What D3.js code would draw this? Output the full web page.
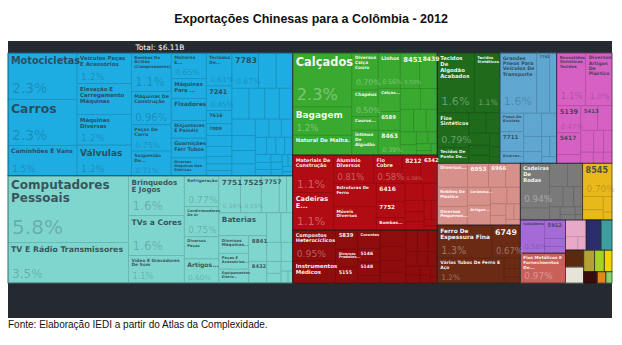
<!DOCTYPE html>
<html>
<head>
<meta charset="utf-8">
<script src="https://cdn.jsdelivr.net/npm/d3@7"></script>
<style>
  html, body { margin: 0; padding: 0; background: #ffffff; }
  svg { display: block; }
</style>
</head>
<body>
<svg id="chart" width="622" height="345"></svg>
<script>
// ---------------------------------------------------------------
// Participação de cada produto no total exportado (%)
// Itens sem nome são produtos pequenos sem rótulo visível.
// ---------------------------------------------------------------

// Máquinas
const maqColA = [["Motocicletas", 2.3], ["Carros", 2.3], ["Caminhões E Vans", 1.5]];
const maqColB = [["Veículos Peças E Acessórios", 1.2], ["Elevação E Carregamento Máquinas", 1.2], ["Máquinas Diversas", 1.2], ["Válvulas", 1.2]];
const maqColC = [["Bombas De Ar/Gás (Compressores)", 1.1], ["Máquinas De Construção", 0.96], ["Peças De Carro", 0.75], ["Suspensão De...", 0.71]];
const maqColD = [["Motores E...", 0.65], ["Máquinas Para ...", 0.5], ["Fixadores", 0.55], ["Disjuntores E Painéis", 0.45], ["Guarnições Ferr Tubos", 0.5], ["Diversos Máquinas Não Elétricas", 0.45]];
const maqColE = [["Teclados De...", 0.61], ["7241", 0.45], ["7616", 0.25], ["7009", 0.22], 0.2, 0.18, 0.14, 0.12, 0.1];
const maqResto = [["7783", 0.67], 0.45, 0.42, 0.38, 0.35, 0.32, 0.30, 0.28, 0.25, 0.22, 0.2, 0.18, 0.16, 0.15, 0.14, 0.12, 0.11, 0.1, 0.09, 0.08, 0.07, 0.06, 0.06, 0.05, 0.05, 0.04, 0.04, 0.03];

// Eletrônicos
const eleColA = [["Computadores Pessoais", 5.8], ["TV E Rádio Transmissores", 3.5]];
const eleColB = [["Brinquedos E Jogos", 1.6], ["TVs a Cores", 1.6], ["Vídeo E Gravadores De Som", 1.1]];
const eleColC = [["Refrigeração", 0.77], ["Condicionadores De Ar", 0.75], ["Diversos Peças", 0.55], ["Artigos...", 0.6]];
const eleTopo = [["7751", 0.58], ["7525", 0.55], ["7757", 0.48], 0.2, 0.16];
const eleBaterias = [["Baterias", 0.79]];
const eleColD1 = [["Diversos Máquinas...", 0.38], ["Peças E Acessórios...", 0.34], ["Equipamentos Eletro...", 0.3]];
const eleColD2 = [["8841", 0.33], ["8432", 0.28]];
const eleResto = [0.3, 0.25, 0.2, 0.16, 0.12, 0.1, 0.08, 0.06, 0.04];

// Têxteis e calçados
const texColA = [["Calçados", 2.3], ["Bagagem", 1.2], ["Natural De Malha.", 0.85]];
const texColB = [["Diversos Calça Couro", 0.7], ["Chapéus", 0.5], ["Couros...", 0.26], ["Íntimos De Algodão", 0.47]];
const texColC = [["Linhos", 0.56], ["Calças...", 0.37], ["6589", 0.3], ["8463", 0.39]];
const texResto = [["8451", 0.5], ["8439", 0.45], 0.3, 0.25, 0.22, 0.2, 0.18, 0.15, 0.12, 0.1, 0.08, 0.07, 0.05, 0.05];

// Tecidos e fios
const tecTopo = [["Tecidos De Algodão Acabados", 1.6], ["Tecidos Sintéticos", 1.1]];
const tecColA = [["Fios Sintéticos", 0.79], ["Tecidos De Ponto De...", 0.36]];
const tecResto = [0.25, 0.2, 0.18, 0.15, 0.12, 0.1, 0.07, 0.05];

// Construção e móveis
const movColA = [["Materiais De Construção", 1.1], ["Cadeiras E...", 1.1]];
const movTopo = [["Alumínio Diversos", 0.81], ["Fio Cobre", 0.58], ["8212", 0.38], ["6342", 0.33]];
const movColB = [["Estruturas De Ferro", 0.72], ["Móveis Diversos", 0.73]];
const movColC = [["6416", 0.38], ["7752", 0.34], ["Bombas...", 0.26]];
const movResto = [0.22, 0.18, 0.15, 0.13, 0.12, 0.1, 0.08, 0.06, 0.04];

// Químicos e instrumentos
const quiColA = [["Compostos Heterocíclicos", 0.95], ["Instrumentos Médicos", 0.68]];
const quiColB = [["5839", 0.3], ["Diversos Produtos...", 0.28], ["5155", 0.25]];
const quiColC = [["Corantes", 0.3], ["5146", 0.22], ["5148", 0.22], 0.12];
const quiResto = [0.3, 0.26, 0.22, 0.2, 0.18, 0.16, 0.14, 0.12, 0.11, 0.1, 0.09, 0.08, 0.07, 0.06, 0.05, 0.03];

// Pneus e veículos
const veiTopo = [["Grandes Pneus Para Veículos De Transporte", 1.6], ["7782", 0.55], 0.31];
const veiColA = [["Pneus De Bicicleta", 0.32], ["7711", 0.34], ["Diversos...", 0.2]];
const veiResto = [0.3, 0.25, 0.2, 0.15, 0.12, 0.1, 0.07];

// Plásticos
const plaTopo = [["Revestidos Sintéticos Tecidos", 1.1], ["Diversos Artigos De Plástico", 1.0]];
const plaColA = [["5139", 0.47], ["5417", 0.38], 0.15];
const plaResto = [["5413", 0.3], 0.25, 0.2, 0.16, 0.13, 0.1, 0.08, 0.07];

// Cerâmica e utensílios
const cerTopo = [["Diversos...", 0.52], ["6953", 0.36], ["6966", 0.3], 0.25];
const cerColA = [["Rebites De Plástico", 0.42], ["Diversos Pequenos...", 0.4]];
const cerColB = [["Cerâmica...", 0.3], ["Artigos...", 0.33]];
const cerResto = [0.2, 0.16, 0.13, 0.11, 0.09, 0.07, 0.06];

// Metais
const metTopo = [["Ferro De Espessura Fina", 1.3], ["6749", 0.67]];
const metBase = [["Vários Tubos De Ferro E Aço", 1.2]];
const metResto = [0.12, 0.1, 0.07];

// Demais setores
const cadCol = [["Cadeiras De Rodas", 0.94], 0.25];
const cadResto = [0.3, 0.25, 0.2, 0.16, 0.13, 0.1, 0.08, 0.06, 0.04, 0.03];
const carbono = [["8545", 0.7], 0.2, 0.15, 0.1, 0.05];
const isoA = [["Isoladores", 0.58]];
const isoB = [["5912", 0.28], 0.12, 0.1];
const fioMet = [["Fios Metálicos E Fornecimentos De...", 0.97]];
const rosa = [0.25, 0.12, 0.08];
const marinho = [0.32];
const petroleo = [0.24];
const marrom = [0.22];
const bege = [0.21];
const oliva = [0.17];
const lima = [0.15];
const amarelo = [0.12];
const vinho = [0.11];
const laranja = [0.07];
const verdeClaro = [0.05];

const titulo = "Exportações Chinesas para a Colômbia - 2012";
const total = "Total: $6.11B";
const fonte = "Fonte: Elaboração IEDI a partir do Atlas da Complexidade.";

// ---------------------------------------------------------------
// Cores por setor
// ---------------------------------------------------------------
const estilo = {
  maq: { fill: "#1eade2", ink: "dark" },
  ele: { fill: "#7fd6cf", ink: "dark" },
  tex: { fill: "#3aa92f", ink: "light" },
  tec: { fill: "#1e6b1c", ink: "light" },
  mov: { fill: "#b10b13", ink: "light" },
  qui: { fill: "#8e0c0c", ink: "light" },
  vei: { fill: "#5fa7d1", ink: "dark" },
  pla: { fill: "#d660c4", ink: "dark" },
  cer: { fill: "#d8908a", ink: "light" },
  met: { fill: "#6a2a13", ink: "light" },
  cad: { fill: "#7a7a7a", ink: "light" },
  car: { fill: "#e9b81b", ink: "dark" },
  iso: { fill: "#a66ad7", ink: "dark" },
  fio: { fill: "#c9605a", ink: "light" },
  ros: { fill: "#e8a9c9", ink: "dark" },
  mar: { fill: "#2b2c6b", ink: "light" },
  pet: { fill: "#3c9e9e", ink: "light" },
  brn: { fill: "#5b2a0e", ink: "light" },
  bge: { fill: "#e7e3d6", ink: "dark" },
  olv: { fill: "#b3a233", ink: "dark" },
  lim: { fill: "#a5d223", ink: "dark" },
  ama: { fill: "#f1d300", ink: "dark" },
  vin: { fill: "#3b0a0a", ink: "light" },
  lar: { fill: "#e2861f", ink: "dark" },
  vcl: { fill: "#8ed16c", ink: "dark" }
};

// ---------------------------------------------------------------
// Estrutura do treemap: "h" = lado a lado, "v" = empilhado,
// "s" = squarify para os produtos menores
// ---------------------------------------------------------------
const leaf = d => Array.isArray(d) ? { name: d[0], value: d[1] } : { name: "", value: d };
const list = (dir, arr) => ({ dir, children: arr.map(leaf) });
const H = (...children) => ({ dir: "h", children });
const V = (...children) => ({ dir: "v", children });
const sec = (key, node) => Object.assign(node, { sec: key });

const tree = H(
  V(
    sec("maq", H(list("v", maqColA), list("v", maqColB), list("v", maqColC), list("v", maqColD), list("v", maqColE), list("s", maqResto))),
    sec("ele", H(list("v", eleColA), list("v", eleColB), list("v", eleColC),
      V(list("h", eleTopo),
        H(V(list("v", eleBaterias), H(list("v", eleColD1), list("v", eleColD2))), list("s", eleResto)))))
  ),
  V(
    sec("tex", H(list("v", texColA), list("v", texColB), list("v", texColC), list("s", texResto))),
    sec("mov", H(list("v", movColA), V(list("h", movTopo), H(list("v", movColB), list("v", movColC), list("s", movResto))))),
    sec("qui", H(list("v", quiColA), list("v", quiColB), list("v", quiColC), list("s", quiResto)))
  ),
  V(
    H(
      sec("tec", V(list("h", tecTopo), H(list("v", tecColA), list("s", tecResto)))),
      sec("vei", V(list("h", veiTopo), H(list("v", veiColA), list("s", veiResto)))),
      sec("pla", V(list("h", plaTopo), H(list("v", plaColA), list("s", plaResto))))
    ),
    H(
      V(
        sec("cer", V(list("h", cerTopo), H(list("v", cerColA), list("v", cerColB), list("s", cerResto)))),
        sec("met", V(list("h", metTopo), H(list("h", metBase), list("v", metResto))))
      ),
      V(
        H(sec("cad", H(list("v", cadCol), list("s", cadResto))), sec("car", list("s", carbono))),
        H(
          V(sec("iso", H(list("v", isoA), list("v", isoB))), sec("fio", list("v", fioMet))),
          V(
            H(sec("ros", list("s", rosa)), sec("mar", list("v", marinho)), sec("pet", list("v", petroleo))),
            H(
              V(sec("brn", list("v", marrom)), sec("bge", list("v", bege))),
              V(
                H(sec("olv", list("v", oliva)), sec("lim", list("v", lima)), sec("ama", list("v", amarelo))),
                H(sec("vin", list("v", vinho)), sec("lar", list("v", laranja)), sec("vcl", list("v", verdeClaro)))
              )
            )
          )
        )
      )
    )
  )
);

function tile(node, x0, y0, x1, y1) {
  const dir = node.data.dir;
  if (dir === "h") d3.treemapDice(node, x0, y0, x1, y1);
  else if (dir === "v") d3.treemapSlice(node, x0, y0, x1, y1);
  else d3.treemapSquarify(node, x0, y0, x1, y1);
}

const MAP = { x: 8, y: 53, w: 604, h: 230 };
const root = d3.hierarchy(tree, d => d.children).sum(d => d.children ? 0 : d.value);
d3.treemap().size([MAP.w, MAP.h]).tile(tile).round(false)(root);

const sectorOf = d => { let n = d; while (n && !n.data.sec) n = n.parent; return estilo[n.data.sec]; };

// ---------------------------------------------------------------
// Desenho
// ---------------------------------------------------------------
const svg = d3.select("#chart");

svg.append("text")
  .attr("x", 311).attr("y", 23)
  .attr("text-anchor", "middle")
  .attr("font-family", "'Liberation Sans', Arial, sans-serif")
  .attr("font-weight", "bold").attr("font-size", 12.5)
  .attr("fill", "#111")
  .text(titulo);

svg.append("rect")
  .attr("x", 8).attr("y", 41).attr("width", 604).attr("height", 277)
  .attr("fill", "#252a31");

svg.append("text")
  .attr("x", 160).attr("y", 49.5)
  .attr("text-anchor", "middle")
  .attr("font-family", "'DejaVu Sans', sans-serif")
  .attr("font-size", 7.5)
  .attr("fill", "#ffffff")
  .text(total);

svg.append("text")
  .attr("x", 8).attr("y", 328)
  .attr("font-family", "'Liberation Sans', Arial, sans-serif")
  .attr("font-size", 10)
  .attr("fill", "#111")
  .text(fonte);

const g = svg.append("g").attr("transform", `translate(${MAP.x},${MAP.y})`);
const leaves = root.leaves();

g.selectAll("rect.cell").data(leaves).join("rect")
  .attr("class", "cell")
  .attr("x", d => d.x0).attr("y", d => d.y0)
  .attr("width", d => d.x1 - d.x0).attr("height", d => d.y1 - d.y0)
  .attr("fill", d => sectorOf(d).fill)
  .attr("stroke", d => d3.color(sectorOf(d).fill).darker(0.45))
  .attr("stroke-width", 0.7);

g.selectAll("rect.sector").data(root.descendants().filter(d => d.data.sec)).join("rect")
  .attr("class", "sector")
  .attr("x", d => d.x0).attr("y", d => d.y0)
  .attr("width", d => d.x1 - d.x0).attr("height", d => d.y1 - d.y0)
  .attr("fill", "none")
  .attr("stroke", "#1c232b").attr("stroke-opacity", 0.55)
  .attr("stroke-width", 0.9);

// medição de texto para quebrar os rótulos
const ctx = document.createElement("canvas").getContext("2d");
function measure(t, size, weight) {
  ctx.font = `${weight} ${size}px "DejaVu Sans"`;
  return ctx.measureText(t).width;
}
function wrap(words, size, maxW) {
  const lines = [];
  let cur = "";
  for (const w of words) {
    const test = cur ? cur + " " + w : w;
    if (!cur || measure(test, size, "bold") <= maxW) cur = test;
    else { lines.push(cur); cur = w; }
  }
  if (cur) lines.push(cur);
  return lines;
}
function tryFit(words, maxW, start, budget, slack, minSize) {
  let size = start;
  while (size >= minSize) {
    const lines = wrap(words, size, maxW);
    const widest = d3.max(lines, l => measure(l, size, "bold"));
    if (widest <= maxW * slack && lines.length * size * 1.1 <= budget) return { size, lines };
    size -= 0.25;
  }
  return null;
}
function fitName(name, w, h) {
  const maxW = w - 5;
  const words = name.split(" ");
  const isCode = /^\d+$/.test(name);
  const start = Math.min(13.5, Math.sqrt(w * h) * (isCode ? 0.26 : 0.22));
  return tryFit(words, maxW, start, h * (isCode ? 0.5 : 0.4), isCode ? 1.35 : 1.08, 3.8)
    || tryFit(words, maxW, Math.min(start, 6), h * 0.6, 1.12, 3.4)
    || { size: 3.5, lines: wrap(words, 3.5, maxW) };
}
const fmt = v => (v >= 1 ? v.toFixed(1) : v.toFixed(2)) + "%";

const labels = g.append("g");
leaves.forEach(d => {
  const w = d.x1 - d.x0, h = d.y1 - d.y0;
  if (!d.data.name || w < 10 || h < 6) return;
  const st = sectorOf(d);
  const light = st.ink === "light";
  const fit = fitName(d.data.name, w, h);
  const t = labels.append("text")
    .attr("font-family", "'DejaVu Sans', sans-serif")
    .attr("font-weight", "bold")
    .attr("font-size", fit.size)
    .attr("fill", light ? "#ffffff" : "#2d3b45")
    .attr("fill-opacity", light ? 0.95 : 0.85);
  fit.lines.forEach((line, i) => {
    t.append("tspan")
      .attr("x", d.x0 + 3)
      .attr("y", d.y0 + 2 + fit.size * 0.95 + i * fit.size * 1.1)
      .text(line);
  });
  const nameBottom = d.y0 + 2 + fit.size * 0.95 + (fit.lines.length - 1) * fit.size * 1.1 + 1;

  // percentual do produto
  if (h < 24 || w < 16) return;
  const txt = fmt(d.data.value);
  let ps = Math.min(22, Math.min(w, h) * 0.3);
  const avail = (w - 4) * 1.1;
  const pw = measure(txt, ps, "normal");
  if (pw > avail) ps = ps * avail / pw;
  if (ps < 5) return;
  const base = d.y0 + h * 0.87;
  if (base - ps * 0.74 < nameBottom + 1) return;
  labels.append("text")
    .attr("x", d.x0 + 4).attr("y", base)
    .attr("font-family", "'DejaVu Sans', sans-serif")
    .attr("font-size", ps)
    .attr("fill", light ? "#ffffff" : "#000000")
    .attr("fill-opacity", light ? 0.35 : 0.2)
    .text(txt);
});
</script>
</body>
</html>
